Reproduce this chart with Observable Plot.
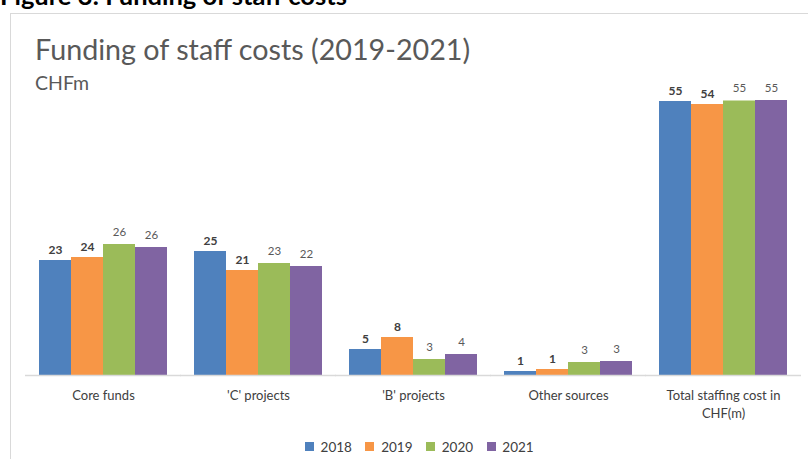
<!DOCTYPE html>
<html>
<head>
<meta charset="utf-8">
<script src="https://cdn.jsdelivr.net/npm/d3@7"></script>
<script src="https://cdn.jsdelivr.net/npm/@observablehq/plot@0.6"></script>
<style>
  html, body { margin: 0; padding: 0; background: #fff; }
  #page { position: relative; width: 808px; height: 459px; overflow: hidden; font-family: Lato, "Open Sans", sans-serif; }
  #header { position: absolute; left: 0; top: -18px; font: bold 25.5px/26px Lato, sans-serif; color: #000; white-space: nowrap; }
  #frame { position: absolute; left: 10px; top: 13px; width: 820px; height: 470px; border: 1.5px solid #d9d9d9; box-sizing: border-box; background: #fff; }
  #title { position: absolute; left: 35px; top: 32px; font: 400 28.7px Lato, sans-serif; color: #595959; white-space: nowrap; }
  #subtitle { position: absolute; left: 35px; top: 71px; font: 400 19.5px Lato, sans-serif; color: #595959; }
  #chart { position: absolute; left: 0; top: 0; }
  #legend { position: absolute; left: 0; width: 852px; top: 430px; display: flex; justify-content: center; }
</style>
</head>
<body>
<div id="page">
  <div id="header">Figure 3: Funding of staff costs</div>
  <div id="frame"></div>
  <div id="chart"></div>
  <div id="title">Funding of staff costs (2019-2021)</div>
  <div id="subtitle">CHFm</div>
  <div id="legend"></div>
</div>
<script>
const categories = ["Core funds", "'C' projects", "'B' projects", "Other sources", "Total staffing cost in CHF(m)"];
const years = ["2018", "2019", "2020", "2021"];
const values2018 = [23.0, 24.8, 5.2, 0.8, 54.8];
const values2019 = [23.6, 21.0, 7.6, 1.2, 54.2];
const values2020 = [26.2, 22.4, 3.2, 2.6, 54.9];
const values2021 = [25.6, 21.8, 4.2, 2.8, 55.0];
const labels2018 = ["23", "25", "5", "1", "55"];
const labels2019 = ["24", "21", "8", "1", "54"];
const labels2020 = ["26", "23", "3", "3", "55"];
const labels2021 = ["26", "22", "4", "3", "55"];
const colors = ["#4F81BD", "#F79646", "#9BBB59", "#8064A2"];

const series = [values2018, values2019, values2020, values2021];
const seriesLabels = [labels2018, labels2019, labels2020, labels2021];
const data = [];
categories.forEach((c, i) => {
  years.forEach((y, j) => {
    data.push({category: c, year: y, value: series[j][i], label: seriesLabels[j][i], bold: j < 2});
  });
});

const chart = Plot.plot({
  width: 808,
  height: 459,
  marginTop: 100,
  marginBottom: 84,
  marginLeft: 26,
  marginRight: 8,
  style: {fontFamily: "Lato, 'Open Sans', sans-serif", background: "transparent"},
  fx: {domain: categories, paddingInner: 0.1755, paddingOuter: 0.084, label: null},
  x: {domain: years, padding: 0, axis: null},
  y: {domain: [0, 55], axis: null},
  color: {domain: years, range: colors},
  marks: [
    Plot.axisFx({
      anchor: "bottom",
      tickSize: 0,
      tickPadding: 12,
      fontSize: 13,
      lineHeight: 1.35,
      fill: "#404040",
      lineAnchor: "top",
      label: null,
      tickFormat: d => d === "Total staffing cost in CHF(m)" ? "Total staffing cost in\nCHF(m)" : d
    }),
    Plot.barY(data, {fx: "category", x: "year", y: "value", fill: "year"}),
    Plot.ruleY([0], {stroke: "#d9d9d9", strokeWidth: 1.5, insetLeft: -14, insetRight: -14}),
    Plot.text(data.filter(d => d.bold), {fx: "category", x: "year", y: "value", text: "label", dy: -7, lineAnchor: "bottom", fontSize: 12, fontWeight: "bold", fill: "#404040"}),
    Plot.text(data.filter(d => !d.bold), {fx: "category", x: "year", y: "value", text: "label", dy: -9, lineAnchor: "bottom", fontSize: 11.5, fill: "#595959"})
  ]
});
document.getElementById("chart").appendChild(chart);

const legend = Plot.legend({
  color: {domain: years, range: colors},
  swatchSize: 9,
  swatchWidth: 9,
  swatchHeight: 9,
  style: {fontFamily: "Lato, 'Open Sans', sans-serif", fontSize: "13.5px", color: "#404040"}
});
document.getElementById("legend").appendChild(legend);
</script>
</body>
</html>
